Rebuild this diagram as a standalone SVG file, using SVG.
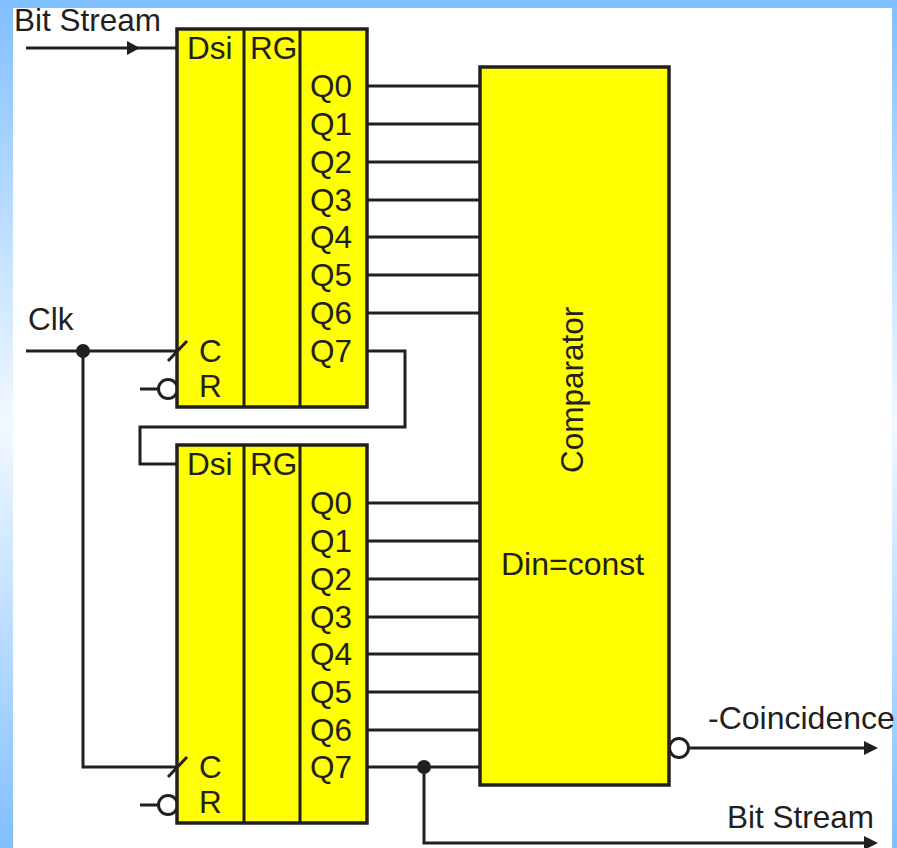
<svg xmlns="http://www.w3.org/2000/svg" width="897" height="848" viewBox="0 0 897 848">
<style>
.box{fill:#ffff00;stroke:#231f20;stroke-width:3.5}
.w{fill:none;stroke:#231f20;stroke-width:3}
.t{font-family:"Liberation Sans",Arial,sans-serif;font-size:31.5px;fill:#231f20}
.l{font-size:32px}
.dot{fill:#231f20}
.bub{fill:#fff;stroke:#231f20;stroke-width:3}
.ah{fill:#231f20}
</style>
<defs>
<linearGradient id="bg" x1="0" y1="0" x2="0" y2="1">
<stop offset="0" stop-color="#80bfff"/>
<stop offset="0.5" stop-color="#f2f9ff"/>
<stop offset="1" stop-color="#80bfff"/>
</linearGradient>
</defs>
<rect width="897" height="848" fill="url(#bg)"/>
<rect x="13" y="8" width="879" height="840" fill="#fff"/>

<g id="connectors">
<path class="w" d="M26 48H177"/>
<path class="ah" d="M127 41L140 48L127 55Z"/>
<path class="w" d="M26 351H177"/>
<path class="w" d="M83 351V767H177"/>
<path class="w" d="M140 389H160M140 805H160"/>
<path class="w" d="M367 351H405V427H140V464H177"/>
<path class="w" d="M367 86H480M367 124H480M367 162H480M367 200H480M367 237H480M367 275H480M367 313H480"/>
<path class="w" d="M367 503H480M367 541H480M367 579H480M367 617H480M367 654H480M367 692H480M367 730H480M367 767H480"/>
<path class="w" d="M424 767V843H866"/>
<path class="ah" d="M864 836L878 843L864 850Z"/>
<path class="w" d="M688 748H866"/>
<path class="ah" d="M864 741L878 748L864 755Z"/>
<circle class="dot" cx="83" cy="351" r="7"/>
<circle class="dot" cx="424" cy="767" r="7"/>
</g>

<g id="register1">
<circle class="bub" cx="168" cy="389" r="9.5"/>
<rect class="box" x="177" y="29" width="190" height="378"/>
<path class="w" d="M244 29V407M300 29V407"/>
<path class="w" d="M168 361L187 341"/>
<text class="t" x="187" y="59">Dsi</text>
<text class="t" x="250" y="59">RG</text>
<text class="t" x="310" y="97">Q0</text>
<text class="t" x="310" y="135">Q1</text>
<text class="t" x="310" y="173">Q2</text>
<text class="t" x="310" y="211">Q3</text>
<text class="t" x="310" y="248">Q4</text>
<text class="t" x="310" y="286">Q5</text>
<text class="t" x="310" y="324">Q6</text>
<text class="t" x="310" y="362">Q7</text>
<text class="t" x="199" y="362">C</text>
<text class="t" x="199" y="397">R</text>
</g>

<g id="register2">
<circle class="bub" cx="168" cy="805" r="9.5"/>
<rect class="box" x="177" y="445" width="190" height="378"/>
<path class="w" d="M244 445V823M300 445V823"/>
<path class="w" d="M168 777L187 757"/>
<text class="t" x="187" y="475">Dsi</text>
<text class="t" x="250" y="475">RG</text>
<text class="t" x="310" y="514">Q0</text>
<text class="t" x="310" y="552">Q1</text>
<text class="t" x="310" y="590">Q2</text>
<text class="t" x="310" y="628">Q3</text>
<text class="t" x="310" y="665">Q4</text>
<text class="t" x="310" y="703">Q5</text>
<text class="t" x="310" y="741">Q6</text>
<text class="t" x="310" y="778">Q7</text>
<text class="t" x="199" y="778">C</text>
<text class="t" x="199" y="813">R</text>
</g>

<g id="comparator">
<circle class="bub" cx="679" cy="748" r="9.5"/>
<rect class="box" x="480" y="67" width="189" height="718"/>
<text class="t" transform="translate(583 473) rotate(-90)">Comparator</text>
<text class="t l" x="501" y="575">Din=const</text>
</g>

<g id="labels">
<text class="t" x="14" y="31">Bit Stream</text>
<text class="t" x="28" y="330">Clk</text>
<text class="t l" x="708" y="729">-Coincidence</text>
<text class="t" x="727" y="828">Bit Stream</text>
</g>
</svg>
